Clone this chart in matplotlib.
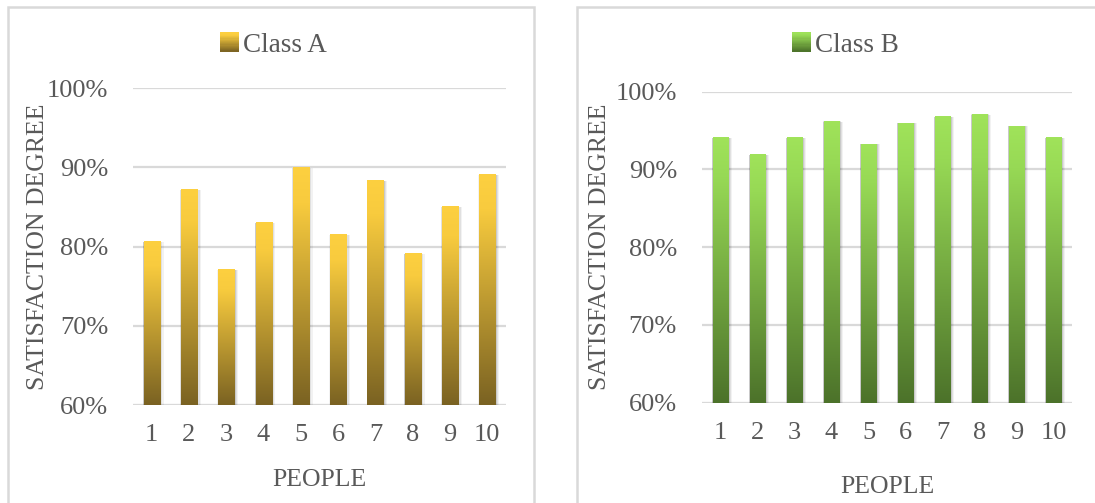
import numpy as np
import matplotlib
matplotlib.use("Agg")
import matplotlib.pyplot as plt
from matplotlib.patches import Rectangle
from matplotlib.legend_handler import HandlerBase
from matplotlib.colors import LinearSegmentedColormap, to_rgb
from matplotlib.ticker import FuncFormatter

plt.rcParams['font.family'] = ['Liberation Serif', 'DejaVu Serif']

# ---- data ----
people = [1, 2, 3, 4, 5, 6, 7, 8, 9, 10]
class_a = [80.6, 87.2, 77.1, 83.0, 90.0, 81.5, 88.3, 79.1, 85.1, 89.1]
class_b = [94.1, 91.9, 94.1, 96.2, 93.3, 96.0, 96.8, 97.1, 95.6, 94.1]
series_names = ["Class A", "Class B"]
y_ticks = [60, 70, 80, 90, 100]
x_label = "PEOPLE"
y_label = "SATISFACTION DEGREE"

TXT = "#595959"
GRID = "#d9d9d9"
grad_a = [(0.0, "#fdd040"), (0.15, "#f8cb3e"), (1.0, "#7a6222")]
grad_b = [(0.0, "#a0e35a"), (0.15, "#97d955"), (1.0, "#4c722a")]

W, H = 1095, 503
fig = plt.figure(figsize=(W / 100, H / 100), dpi=100)

# panel borders
for (x0, x1) in [(8, 534), (577, 1120)]:
    fig.patches.append(Rectangle((x0 / W, -0.1), (x1 - x0) / W, (1 - 7 / H) + 0.1,
                                 transform=fig.transFigure, fill=False,
                                 edgecolor=GRID, linewidth=1.8, zorder=0))


def make_cmap(stops):
    return LinearSegmentedColormap.from_list("g", [(p, to_rgb(c)) for p, c in stops])


class GradHandler(HandlerBase):
    def __init__(self, stops):
        super().__init__()
        self.cmap = make_cmap(stops)

    def create_artists(self, legend, orig_handle, xdescent, ydescent, width, height,
                       fontsize, trans):
        n = 16
        side = height
        x0 = -xdescent + (width - side)
        y0 = -ydescent
        arts = []
        for i in range(n):
            c = self.cmap(1 - (i + 0.5) / n)
            arts.append(Rectangle((x0, y0 + i * side / n), side, side / n + 0.2,
                                  facecolor=c, edgecolor='none', transform=trans))
        return arts


def panel(rect, values, stops, name, legend_center, xlabel_y, ylabel_x):
    ax = fig.add_axes(rect)
    cmap = make_cmap(stops)
    x = np.arange(len(people))
    width = 0.43
    grad = np.linspace(0, 1, 256).reshape(-1, 1)
    for xi, v in zip(x, values):
        # soft shadow
        for k, a in [(3, 0.05), (2, 0.07), (1, 0.10)]:
            dx = 0.027 * k
            ax.add_patch(Rectangle((xi - width / 2 - dx * 0.3, 60 - 0.12 * k),
                                   width + dx * 1.6, v - 60 + 0.1 * k,
                                   facecolor="black", alpha=a, edgecolor="none",
                                   zorder=2))
        ax.imshow(grad, cmap=cmap, aspect="auto", origin="upper",
                  extent=(xi - width / 2, xi + width / 2, 60, v), zorder=3,
                  interpolation="bilinear")
    ax.bar(x, np.array(values) - 60, bottom=60, width=width,
           color="none", edgecolor="none", label=name, zorder=3)
    ax.set_xlim(-0.5, len(people) - 0.5)
    ax.set_ylim(60, 100)
    ax.set_yticks(y_ticks)
    ax.yaxis.set_major_formatter(FuncFormatter(lambda v, p: f"{v:.0f}%"))
    ax.set_xticks(x)
    ax.set_xticklabels([str(p) for p in people])
    ax.tick_params(axis="y", length=0, pad=18, labelsize=19, labelcolor=TXT)
    ax.tick_params(axis="x", length=0, pad=14, labelsize=19, labelcolor=TXT)
    ax.grid(axis="y", color=GRID, linewidth=1.6, zorder=1)
    ax.set_axisbelow(True)
    for s in ax.spines.values():
        s.set_visible(False)
    ax.axhline(60, color=GRID, linewidth=2.2, zorder=1)
    ax.set_facecolor("none")
    fig.text(ylabel_x / W, rect[1] + rect[3] / 2,
             y_label, rotation=90, ha="center", va="center", fontsize=18.5, color=TXT)
    fig.text((rect[0] + rect[2] / 2), 1 - xlabel_y / H, x_label, ha="center",
             va="center", fontsize=18.5, color=TXT)
    proxy = Rectangle((0, 0), 1, 1)
    ax.legend([proxy], [name], handler_map={proxy: GradHandler(stops)},
              loc="center", bbox_to_anchor=(legend_center / W, 1 - 45 / H),
              bbox_transform=fig.transFigure, frameon=False, fontsize=19.5,
              labelcolor=TXT, handlelength=0.75, handleheight=0.7,
              handletextpad=0.15, borderpad=0)
    return ax


panel([133 / W, 1 - 405 / H, 373 / W, (405 - 88.3) / H], class_a, grad_a,
      series_names[0], 273, 480, 38)
panel([702 / W, 1 - 402.7 / H, 370 / W, (402.7 - 91.7) / H], class_b, grad_b,
      series_names[1], 845, 487, 600)

fig.savefig("out.png", dpi=100)
